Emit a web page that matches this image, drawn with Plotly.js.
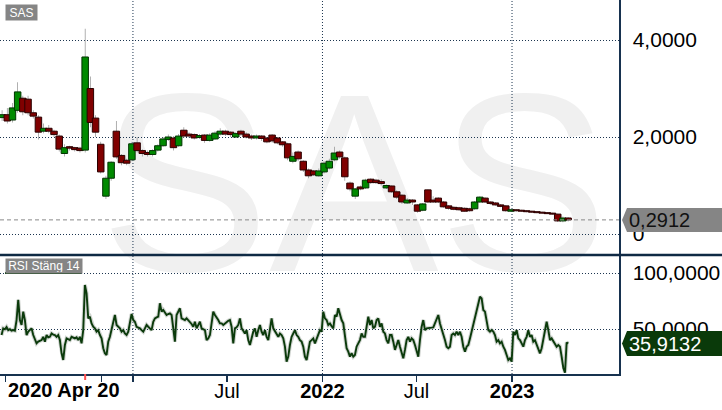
<!DOCTYPE html>
<html><head><meta charset="utf-8">
<script src="https://cdn.plot.ly/plotly-3.0.1.min.js"></script>
<style>html,body{margin:0;padding:0;background:#fff}#chart{width:722px;height:410px}</style>
</head><body><div id="chart"></div>
<script>
// ---- data ----
const candleStart = '2020-04-24';
const candleStepDays = 10;
const opens = [2.40,2.46,2.35,2.55,2.80,2.78,2.50,2.41,2.12,2.18,
2.12,2.02,1.66,1.80,1.78,1.77,1.73,3.00,2.39,1.85,
0.78,1.15,2.12,1.62,1.52,1.53,1.88,1.72,1.68,1.64,
1.73,1.82,1.95,1.98,1.82,2.14,2.06,2.05,1.99,2.04,
1.93,1.96,2.06,2.12,2.10,2.00,2.12,2.06,2.02,1.98,
2.02,1.98,2.04,1.98,1.90,1.86,1.50,1.69,1.50,1.32,
1.30,1.20,1.28,1.36,1.53,1.69,1.57,1.05,0.78,0.97,
0.95,1.13,1.11,1.08,0.95,0.99,0.87,0.80,0.64,0.70,
0.60,0.49,0.91,0.70,0.74,0.66,0.58,0.55,0.54,0.53,
0.52,0.52,0.66,0.74,0.66,0.64,0.60,0.58,0.47,0.50,
0.49,0.48,0.47,0.46,0.45,0.44,0.43,0.41,0.27,0.33];
const closes = [2.46,2.33,2.60,2.93,2.52,2.50,2.43,2.10,2.18,2.12,
2.05,1.75,1.78,1.77,1.74,1.72,3.65,2.30,2.10,1.28,
1.15,1.48,1.59,1.47,1.46,1.86,1.72,1.66,1.64,1.72,
1.82,1.96,2.00,1.78,2.02,2.02,2.02,1.98,2.03,1.93,
2.04,2.08,2.12,2.06,2.05,2.07,2.06,2.00,1.98,2.02,
1.97,1.90,1.92,1.88,1.84,1.57,1.60,1.55,1.32,1.20,
1.22,1.30,1.46,1.50,1.67,1.59,1.18,0.93,0.93,0.93,
1.11,1.06,1.06,1.04,1.00,0.87,0.76,0.66,0.70,0.66,
0.47,0.62,0.66,0.66,0.66,0.56,0.53,0.51,0.50,0.47,
0.48,0.66,0.76,0.66,0.63,0.60,0.57,0.48,0.50,0.48,
0.47,0.46,0.45,0.44,0.43,0.42,0.41,0.27,0.33,0.2912];
const highs = [2.55,2.60,2.70,3.13,2.85,2.85,2.55,2.45,2.28,2.25,
2.15,2.05,1.85,1.82,1.80,1.80,4.23,3.25,2.45,1.90,
1.20,1.50,2.33,1.65,1.55,1.90,2.00,1.75,1.72,1.75,
1.85,2.00,2.05,2.02,2.06,2.20,2.10,2.08,2.06,2.06,
2.08,2.12,2.18,2.15,2.12,2.10,2.15,2.10,2.05,2.05,
2.04,2.00,2.06,2.00,1.92,1.88,1.68,1.72,1.52,1.35,
1.32,1.35,1.50,1.55,1.80,1.72,1.60,1.08,0.95,1.00,
1.14,1.15,1.14,1.13,1.02,1.00,0.90,0.82,0.74,0.72,
0.62,0.64,0.92,0.78,0.76,0.68,0.60,0.57,0.56,0.55,
0.54,0.68,0.78,0.76,0.68,0.66,0.62,0.60,0.52,0.51,
0.50,0.49,0.48,0.47,0.46,0.45,0.44,0.42,0.36,0.35];
const lows = [2.33,2.28,2.30,2.50,2.45,2.45,2.38,1.95,2.08,2.08,
2.00,1.70,1.60,1.72,1.70,1.68,1.68,2.20,2.00,1.25,
0.72,1.10,1.55,1.42,1.42,1.50,1.68,1.60,1.60,1.60,
1.70,1.80,1.92,1.72,1.80,1.98,1.98,1.95,1.96,1.88,
1.90,1.94,2.03,2.02,2.00,1.98,2.02,1.97,1.94,1.95,
1.92,1.87,1.88,1.85,1.80,1.52,1.46,1.50,1.28,1.15,
1.20,1.18,1.25,1.33,1.50,1.55,1.10,0.88,0.72,0.90,
0.93,1.03,1.03,1.00,0.93,0.85,0.72,0.62,0.62,0.60,
0.44,0.47,0.64,0.64,0.64,0.54,0.50,0.49,0.48,0.46,
0.46,0.50,0.64,0.64,0.60,0.58,0.55,0.46,0.46,0.46,
0.46,0.45,0.44,0.43,0.42,0.41,0.40,0.25,0.24,0.26];

const rsiStart = '2020-04-23';
const rsiStepDays = 3.21;
const rsiValues = [
44.6,50.6,49.8,51.8,49,49.8,48.5,49,48.5,58,
76,58,53.6,65.5,58,44.6,47.6,49,50.6,44.6,
40.1,37.2,38.7,39.6,40.1,43,38.7,44.6,42.5,43,
46,45,44.6,43,44.6,40.1,28.3,22.3,35.7,41.6,
40.7,40.1,43,42,41.6,42.5,40.1,43,37.2,49,
89.3,81.8,59.5,61,55,52,50.6,47.6,49,44.6,
41.6,32.8,28.3,26.8,38.7,43,49,55,62.5,53.6,
52,50.6,47.6,49,46,44.6,47.6,55,63.4,58,
56.5,52,51.5,50.6,49,47.6,50.6,53.6,52,50.6,
49,56.5,59.5,60.4,61,73,65.5,67,64,62.5,
63.4,64,62.5,52,38.7,62.5,65.5,68.5,59.5,58.6,
58,59.5,58,56.5,54.5,52,56.5,50.6,53.6,56.5,
50.6,49.8,49,40.1,41.6,44.6,53.6,65.5,62.5,60.4,
58,55,55,53.6,55,56.5,57.4,58,52,37.2,
50.6,51.5,53.6,59.5,
50.6,48.5,46,49,40.1,35.7,41.6,47.6,50.6,43,
49,53.6,47.6,44.6,49,43,40.1,49,59.5,50.6,
47.6,46,43,46,44.6,41.6,34.2,20.8,25.3,35.7,
43,46,49,44.6,43,40.1,38.7,34.2,25.3,22.3,
32.8,38.7,40.1,41.6,37.2,41.6,46,49,47.6,65.5,
59.5,58,53.6,55,52.6,50.6,62.5,61,68.5,62.5,
58,55,43,32.8,29.8,25.3,28.3,25.3,26.8,34.2,
37.2,40.1,46,43,43,50.6,61,53.6,58,50.6,
52,58,59.5,52,55,47.6,46,40.1,37.2,44.6,
44.6,38.7,31.3,35.7,40.1,34.2,28.3,23.8,31.3,40.1,
43,38.7,41.6,40.1,35.7,31.3,25.3,40.1,52,58,
49,50.6,50.6,50.6,51.2,51.5,55,58,62.5,55,
50.6,44.6,40.1,34.2,32.8,34.2,44.6,46,44.6,47.6,
44.6,47.6,43,34.2,29.8,34.2,35.7,41.6,47.6,55,
61,67,74.4,78.8,
77.3,67,65.5,58,49,47.6,49,47.6,44.6,38.7,
40.1,37.2,38.7,34.2,31.3,26.8,22.3,23.8,20.8,47.6,
44.6,49,41.6,40.1,37.2,34.2,40.1,43,49,43,
44.6,38.7,40.1,35.7,32.8,28.3,32.8,40.1,47.6,56.5,
49,40.1,41.6,38.7,37.2,34.2,35.7,34.2,25.3,15.2,
11,38,37];

const lastPrice = 0.2912;
const lastRsi = 35.9132;
const priceTickVals = [0, 2, 4];
const priceTickText = ['0', '2,0000', '4,0000'];
const rsiTickVals = [50, 100];
const rsiTickText = ['50,0000', '100,0000'];
const xTickDates = ['2020-05-01','2020-11-01','2021-01-01','2021-07-01','2022-01-01','2022-07-01','2023-01-01'];
const xTickText = ['','','','Jul','<b>2022</b>','Jul','<b>2023</b>'];
const yearLines = ['2021-01-01','2022-01-01','2023-01-01'];
const markerTick = '2020-10-01';
const startLabel = '2020 Apr 20';
const xRange = ['2020-04-20', '2023-07-26'];

// ---- build ----
const DAY = 86400000;
function addDays(s, d) {
  return new Date(Date.parse(s + 'T00:00:00Z') + d * DAY).toISOString().slice(0, 19).replace('T', ' ');
}
const cx = opens.map((_, i) => addDays(candleStart, i * candleStepDays));
const rx = rsiValues.map((_, i) => addDays(rsiStart, i * rsiStepDays));
const up = closes.map((c, i) => c >= opens[i]);
const bodyBase = closes.map((c, i) => Math.min(c, opens[i]));
const bodyH = closes.map((c, i) => Math.max(Math.abs(c - opens[i]), 0.015));

const NAVY = '#17324f';
const GRID = '#1c3550';
const DOT = '1px,2px';
const FONT = 'Liberation Sans, Arial, sans-serif';
const W = 722, H = 410, ML = 0, MR = 103, MT = 0, MB = 36;
const PW = W - ML - MR, PH = H - MT - MB;
const px2x = p => p / PW;
const py2y = p => (PH - p) / PH;
const split = py2y(255);
const priceRange = [-0.433, 4.825];
const rsiRange = [9.8, 116.1];
const pricePerPx = (priceRange[1] - priceRange[0]) / 255;
const rsiPerPx = (rsiRange[1] - rsiRange[0]) / (PH - 255);

const fmt = v => v.toFixed(4).replace('.', ',');

const traces = [
  { type: 'bar', x: cx, base: lows, y: highs.map((h, i) => h - lows[i]),
    width: 1.3 * DAY, marker: { color: '#8a8a8a', line: { width: 0 } },
    xaxis: 'x', yaxis: 'y', hoverinfo: 'skip' },
  { type: 'bar', x: cx, base: bodyBase, y: bodyH, width: 12.5 * DAY,
    marker: { color: up.map(u => u ? '#008a00' : '#800000'),
              line: { color: up.map(u => u ? '#003300' : '#2a0000'), width: 1 } },
    xaxis: 'x', yaxis: 'y', hoverinfo: 'skip' },
  { type: 'scatter', mode: 'lines', x: rx, y: rsiValues, xaxis: 'x', yaxis: 'y2',
    line: { color: 'rgba(150,160,150,0.45)', width: 4 }, hoverinfo: 'skip' },
  { type: 'scatter', mode: 'lines', x: rx, y: rsiValues, xaxis: 'x', yaxis: 'y2',
    line: { color: '#0b3a0b', width: 1.9 }, hoverinfo: 'skip' }
];

const boxL = 627, tip = 622;
function arrowPath(yc, hh) {
  return 'M ' + px2x(tip) + ',' + yc +
    ' L ' + px2x(boxL) + ',' + (yc + hh) +
    ' L ' + px2x(W) + ',' + (yc + hh) +
    ' L ' + px2x(W) + ',' + (yc - hh) +
    ' L ' + px2x(boxL) + ',' + (yc - hh) + ' Z';
}

const shapes = [
  { type: 'rect', xref: 'paper', yref: 'paper', x0: px2x(108), x1: px2x(600), y0: py2y(248), y1: py2y(70),
    line: { width: 0 }, fillcolor: 'rgba(0,0,0,0)', layer: 'below',
    label: { text: 'SAS', textposition: 'middle center', padding: 0,
             font: { size: 254, color: '#f0f0f0', family: FONT } } }
];
yearLines.forEach(d => shapes.push({ type: 'line', xref: 'x', yref: 'paper', x0: d, x1: d, y0: 0, y1: 1,
  line: { color: GRID, width: 1, dash: DOT }, layer: 'below' }));
shapes.push(
  { type: 'line', xref: 'paper', yref: 'y', x0: 0, x1: 1, y0: lastPrice, y1: lastPrice,
    line: { color: '#888', width: 1, dash: '4px,3px' } },
  { type: 'line', xref: 'paper', yref: 'paper', x0: 0, x1: px2x(W), y0: split, y1: split,
    line: { color: '#0f2a44', width: 2.5 } },
  { type: 'path', xref: 'paper', yref: 'y', path: arrowPath(lastPrice, 12 * pricePerPx),
    fillcolor: '#858585', line: { width: 0 } },
  { type: 'path', xref: 'paper', yref: 'y2', path: arrowPath(lastRsi + 1.1, 12.5 * rsiPerPx),
    fillcolor: '#0a3a0a', line: { width: 0 } },
  { type: 'line', xref: 'x', yref: 'paper', x0: markerTick, x1: markerTick, y0: 0, y1: -6 / PH,
    line: { color: '#ff5050', width: 2 } },
  { type: 'line', xref: 'paper', yref: 'paper', x0: px2x(5), x1: px2x(81), y0: py2y(273), y1: py2y(273),
    line: { color: '#0a3a0a', width: 2 } }
);

const annotations = [
  { xref: 'paper', yref: 'paper', x: px2x(5), y: py2y(4), xanchor: 'left', yanchor: 'top',
    text: 'SAS', showarrow: false, bgcolor: '#858585', borderpad: 1, width: 29, height: 13,
    font: { size: 12, color: '#fff', family: FONT } },
  { xref: 'paper', yref: 'paper', x: px2x(5), y: py2y(258), xanchor: 'left', yanchor: 'top',
    text: 'RSI Stäng 14', showarrow: false, bgcolor: '#858585', borderpad: 1, width: 74, height: 12,
    font: { size: 12, color: '#fff', family: FONT } },
  { xref: 'paper', yref: 'paper', x: px2x(6), y: py2y(390), xanchor: 'left', yanchor: 'middle',
    text: '<b>' + startLabel + '</b>', showarrow: false,
    font: { size: 20, color: '#000', family: FONT } },
  { xref: 'paper', yref: 'y', x: px2x(627), y: lastPrice, xanchor: 'left', yanchor: 'middle',
    text: fmt(lastPrice), showarrow: false,
    font: { size: 20, color: '#111', family: FONT } },
  { xref: 'paper', yref: 'y2', x: px2x(627), y: lastRsi + 1.1, xanchor: 'left', yanchor: 'middle',
    text: fmt(lastRsi), showarrow: false,
    font: { size: 20, color: '#fff', family: FONT } }
];

const tickFont = { size: 21, color: '#000', family: FONT };
const layout = {
  width: W, height: H, margin: { l: ML, r: MR, t: MT, b: MB, pad: 0 },
  paper_bgcolor: '#fff', plot_bgcolor: 'rgba(0,0,0,0)',
  showlegend: false, barmode: 'overlay', hovermode: false,
  xaxis: { type: 'date', range: xRange, anchor: 'y2', showgrid: false, zeroline: false,
    showline: true, linecolor: NAVY, linewidth: 1.5, ticks: 'outside', ticklen: 6, tickwidth: 1.5,
    tickcolor: NAVY, tickmode: 'array', tickvals: xTickDates, ticktext: xTickText,
    ticklabelstandoff: -8,
    tickfont: { size: 20, color: '#000', family: FONT }, fixedrange: true },
  yaxis: { domain: [split, 1], anchor: 'x', side: 'right', range: priceRange,
    tickmode: 'array', tickvals: priceTickVals, ticktext: priceTickText, tickfont: tickFont,
    showgrid: true, gridcolor: GRID, griddash: DOT, gridwidth: 1, zeroline: false,
    showline: true, linecolor: NAVY, linewidth: 1.5, ticks: '', ticklabelstandoff: 8, fixedrange: true },
  yaxis2: { domain: [0, split], anchor: 'x', side: 'right', range: rsiRange,
    tickmode: 'array', tickvals: rsiTickVals, ticktext: rsiTickText, tickfont: tickFont,
    showgrid: true, gridcolor: GRID, griddash: DOT, gridwidth: 1, zeroline: false,
    showline: true, linecolor: NAVY, linewidth: 1.5, ticks: '', ticklabelstandoff: 8, fixedrange: true },
  shapes: shapes,
  annotations: annotations
};

Plotly.newPlot('chart', traces, layout, { staticPlot: true, displayModeBar: false });
</script>
</body></html>
